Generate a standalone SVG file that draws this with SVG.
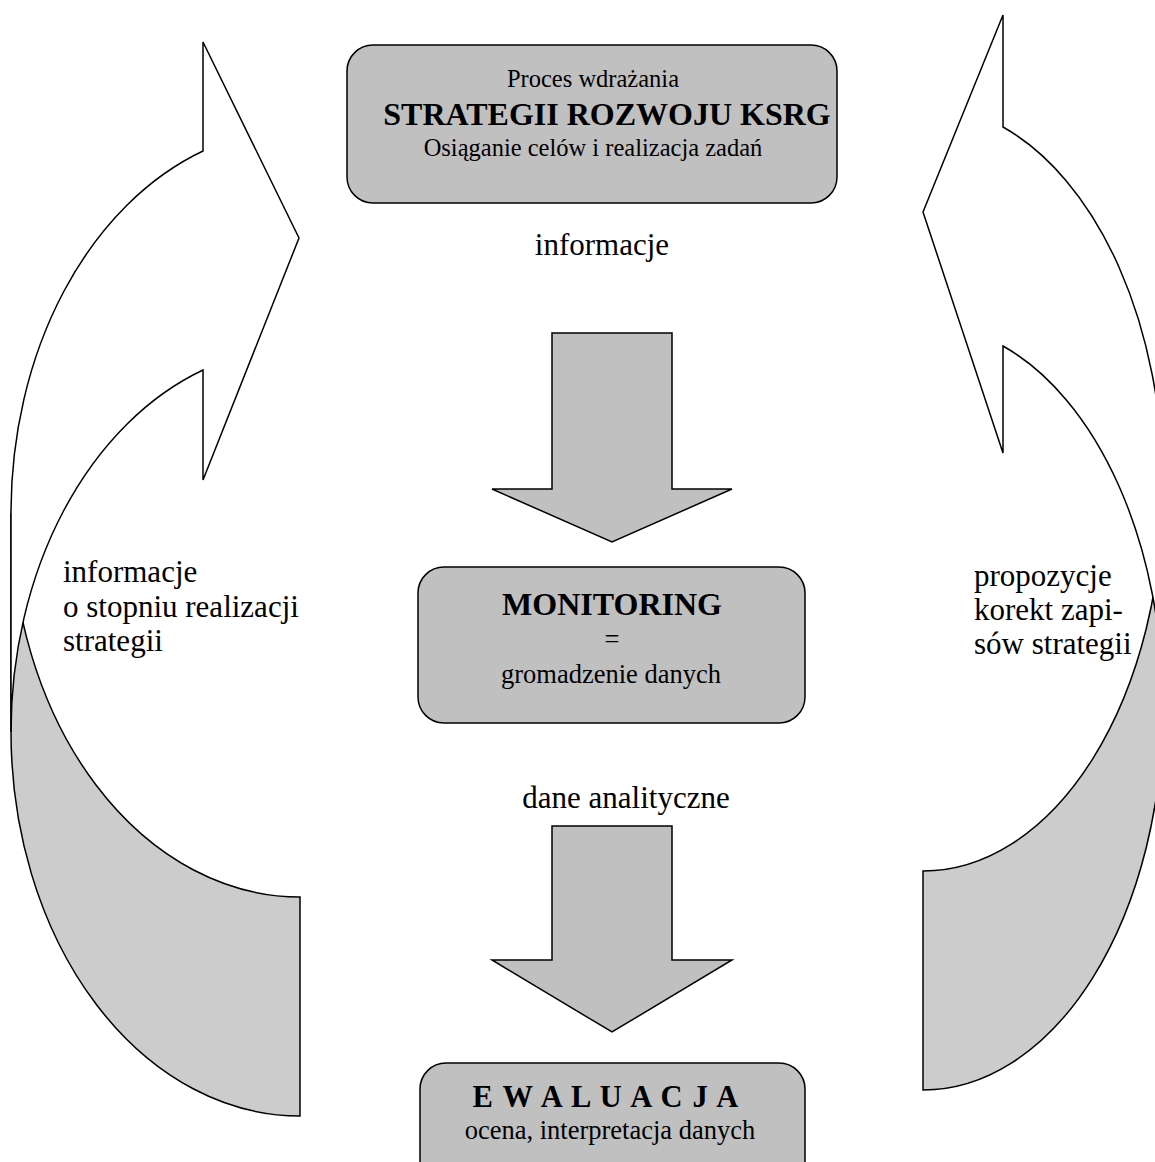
<svg xmlns="http://www.w3.org/2000/svg" width="1155" height="1162" viewBox="0 0 1155 1162">
<style>
  .back { fill: #cccccc; stroke: #000; stroke-width: 1.5; stroke-linejoin: miter; }
  .front { fill: #ffffff; stroke: #000; stroke-width: 1.5; stroke-linejoin: miter; }
  .box { fill: #c0c0c0; stroke: #000; stroke-width: 1.5; }
  .down { fill: #c0c0c0; stroke: #000; stroke-width: 1.5; stroke-linejoin: miter; }
  text { font-family: "Liberation Serif", "Times New Roman", serif; fill: #000; }
  .reg { font-size: 26.5px; }
  .regs { font-size: 24.5px; }
  .bold { font-size: 32px; font-weight: bold; }
  .lbl { font-size: 31px; }
</style>
<rect x="0" y="0" width="1155" height="1162" fill="#ffffff"/>

<g id="left-curved-arrow">
  <path class="back" d="M 11,513 A 289 384 0 0 0 300,897 L 300,1116 A 289 384 0 0 1 11,732 Z"/>
  <path class="front" d="M 11,513 A 289 384 0 0 1 203,151 L 203,42 L 299,238 L 203,480 L 203,370 A 289 384 0 0 0 11,732 Z"/>
</g>

<g id="right-curved-arrow">
  <path class="back" d="M 1163,488 A 240 383 0 0 1 923,871 L 923,1090 A 240 383 0 0 0 1163,707 Z"/>
  <path class="front" d="M 1163,488 A 240 383 0 0 0 1003,127 L 1003,15 L 923,212 L 1003,453 L 1003,346 A 240 383 0 0 1 1163,707 Z"/>
</g>

<g id="connectors">
  <path class="down" d="M 552,333 L 672,333 L 672,489 L 732,489 L 612,542 L 492,489 L 552,489 Z"/>
  <path class="down" d="M 552,826 L 672,826 L 672,960 L 732,960 L 612,1032 L 492,960 L 552,960 Z"/>
</g>

<g id="node-strategia">
  <rect class="box" x="347" y="45" width="490" height="158" rx="26" ry="26"/>
  <text class="regs" x="593" y="87" text-anchor="middle">Proces wdrażania</text>
  <text class="bold" x="607" y="125" text-anchor="middle">STRATEGII ROZWOJU KSRG</text>
  <text class="regs" x="593" y="156" text-anchor="middle">Osiąganie celów i realizacja zadań</text>
</g>

<g id="node-monitoring">
  <rect class="box" x="418" y="567" width="387" height="156" rx="26" ry="26"/>
  <text class="bold" x="612" y="615" text-anchor="middle">MONITORING</text>
  <text class="reg" x="612" y="648" text-anchor="middle">=</text>
  <text class="reg" x="611" y="683" text-anchor="middle">gromadzenie danych</text>
</g>

<g id="node-ewaluacja">
  <rect class="box" x="420" y="1063" width="385" height="130" rx="26" ry="26"/>
  <text x="606" y="1107" text-anchor="middle" letter-spacing="1.2" font-size="30.5" font-weight="bold">E W A L U A C J A</text>
  <text class="reg" x="610" y="1139" text-anchor="middle">ocena, interpretacja danych</text>
</g>

<g id="label-informacje">
  <text class="lbl" x="602" y="255" text-anchor="middle">informacje</text>
</g>
<g id="label-dane">
  <text class="lbl" x="626" y="808" text-anchor="middle">dane analityczne</text>
</g>
<g id="label-left">
  <text class="lbl" x="63" y="582">informacje</text>
  <text class="lbl" x="63" y="617">o stopniu realizacji</text>
  <text class="lbl" x="63" y="651">strategii</text>
</g>
<g id="label-right">
  <text class="lbl" x="974" y="586">propozycje</text>
  <text class="lbl" x="974" y="620">korekt zapi-</text>
  <text class="lbl" x="974" y="654">sów strategii</text>
</g>
</svg>
